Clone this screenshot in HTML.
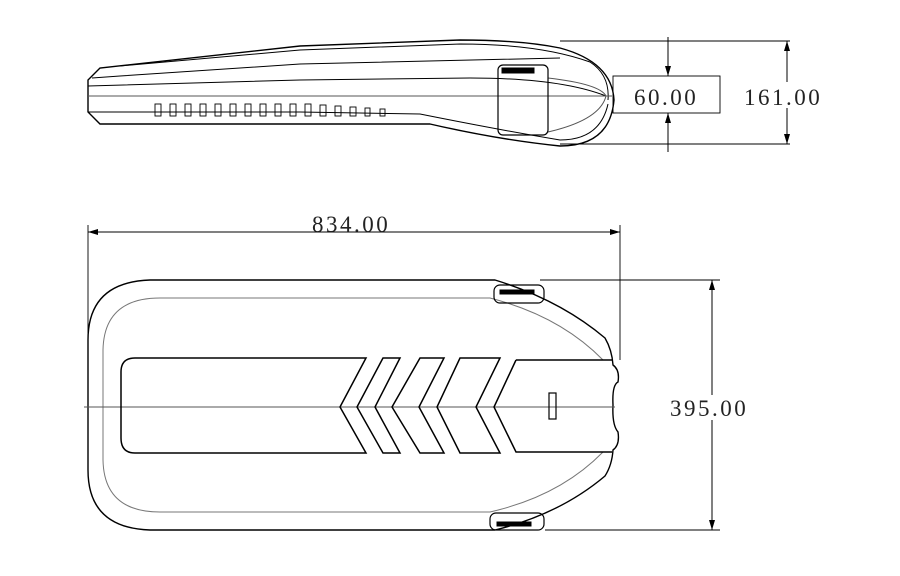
<!DOCTYPE html>
<html><head><meta charset="utf-8"><style>
html,body{margin:0;padding:0;background:#fff;}
svg{display:block;}
text{font-family:"Liberation Serif","Noto Serif CJK SC",serif;font-size:23px;fill:#222;letter-spacing:2.5px;}
</style></head><body>
<svg width="900" height="576" viewBox="0 0 900 576" xmlns="http://www.w3.org/2000/svg">
<defs>
<marker id="a" viewBox="0 0 10 10" refX="10" refY="5" markerWidth="10" markerHeight="14" orient="auto-start-reverse" markerUnits="userSpaceOnUse"><path d="M0,2 L10,5 L0,8 Z" fill="#000"/></marker>
</defs>
<g fill="none" stroke="#000" stroke-width="1">
<!-- ===== Side view ===== -->
<path d="M100,68 L88,80 L88,112 L100,124 L430,124 Q500,140 560,146 Q610,146 614,100 Q612,62 560,48 Q520,40 460,40 L300,46 L100,68 Z" stroke-width="1.4"/>
<path d="M120,66 L300,50 L460,44 Q540,44 590,62 Q610,75 608,100" stroke-width="1"/>
<path d="M92,78 L120,76 L300,64 L560,58" />
<path d="M88,86 L300,80 L470,78 Q560,78 606,96" />
<path d="M88,112 L300,112 L420,114 Q500,130 560,140 Q600,140 608,104" />
<path d="M88,96 L612,96" stroke="#555"/>
<path d="M548,78 Q600,84 606,96 Q600,120 548,132" stroke="#555"/>
<rect x="498" y="65" width="50" height="70" rx="5" stroke-width="1.2"/>
<rect x="502" y="68" width="32" height="5" fill="#000"/>
<g stroke-width="0.9">
<rect x="155" y="104" width="6" height="12"/><rect x="170" y="104" width="6" height="12"/><rect x="185" y="104" width="6" height="12"/><rect x="200" y="104" width="6" height="12"/><rect x="215" y="104" width="6" height="12"/><rect x="230" y="104" width="6" height="12"/><rect x="245" y="104" width="6" height="12"/><rect x="260" y="104" width="6" height="12"/><rect x="275" y="104" width="6" height="12"/><rect x="290" y="104" width="6" height="12"/><rect x="305" y="104" width="6" height="12"/><rect x="320" y="105" width="6" height="11"/><rect x="335" y="106" width="6" height="10"/><rect x="350" y="107" width="6" height="9"/><rect x="365" y="108" width="5" height="8"/><rect x="380" y="109" width="5" height="7"/>
</g>
<!-- dims top -->
<path d="M560,41 L790,41 M560,144 L790,144" stroke-width="0.9"/>
<rect x="613" y="76" width="107" height="37" stroke-width="0.9"/>
<path d="M668,37 L668,76" marker-end="url(#a)"/>
<path d="M668,152 L668,113" marker-end="url(#a)"/>
<path d="M787,82 L787,41" marker-end="url(#a)"/>
<path d="M787,108 L787,144" marker-end="url(#a)"/>
<!-- ===== Top view ===== -->
<path d="M150,280 L495,280 Q560,300 605,338 Q612,350 613,365 Q620,370 618,382 Q612,385 613,405 Q612,425 618,432 Q620,445 613,450 Q612,465 605,476 Q560,514 495,530 L150,530 Q88,528 88,470 L88,340 Q88,282 150,280 Z" stroke-width="1.4"/>
<path d="M160,298 L490,298 Q560,316 603,360 M603,452 Q560,496 490,512 L160,512 Q104,512 103,460 L103,350 Q104,298 160,298" stroke="#777"/>
<path d="M84,407 L615,407" stroke="#555"/>
<rect x="494" y="285" width="50" height="18" rx="6" stroke-width="1.2"/>
<rect x="500" y="290" width="34" height="4" fill="#000"/>
<rect x="490" y="513" width="54" height="17" rx="6" stroke-width="1.2"/>
<rect x="497" y="522" width="34" height="4" fill="#000"/>
<g stroke-width="1.5">
<path d="M366,358 L135,358 Q121,358 121,372 L121,438 Q121,453 135,453 L366,453 L340,407 Z"/>
<path d="M383,358 L400,358 L375,407 L400,453 L383,453 L357,407 Z"/>
<path d="M420,358 L444,358 L419,407 L444,453 L420,453 L392,407 Z"/>
<path d="M460,358 L500,358 L476,407 L500,453 L460,453 L437,407 Z"/>
<path d="M516,360 L612,360 M612,452 L516,452 L494,407 L516,360"/>
</g>
<rect x="549" y="393" width="7" height="26" stroke-width="1.2"/>
<!-- dims bottom -->
<path d="M88,225 L88,400 M620,225 L620,360" stroke-width="0.9"/>
<path d="M350,232 L88,232" marker-end="url(#a)"/>
<path d="M350,232 L620,232" marker-end="url(#a)"/>
<path d="M540,280 L720,280 M545,530 L720,530" stroke-width="0.9"/>
<path d="M712,395 L712,280" marker-end="url(#a)"/>
<path d="M712,420 L712,530" marker-end="url(#a)"/>
</g>
<text x="634" y="105">60.00</text>
<text x="744" y="105">161.00</text>
<text x="312" y="232">834.00</text>
<text x="670" y="416">395.00</text>
</svg>
</body></html>
